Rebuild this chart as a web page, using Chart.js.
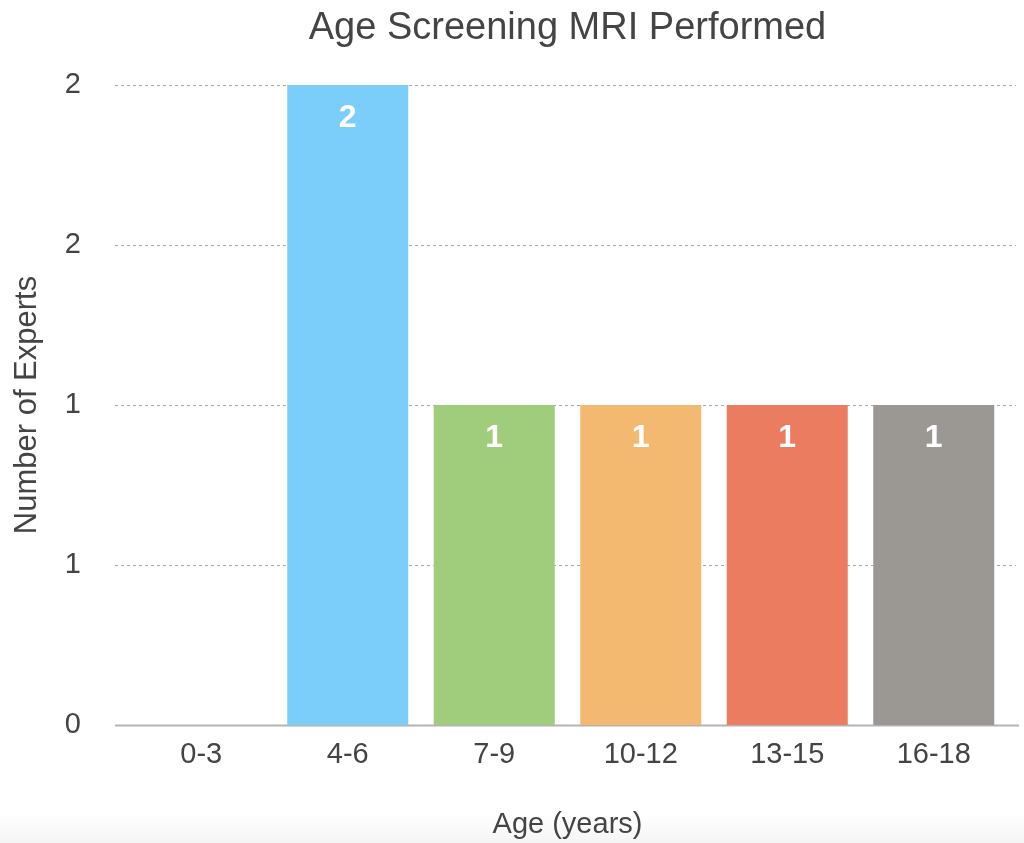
<!DOCTYPE html>
<html>
<head>
<meta charset="utf-8">
<title>Age Screening MRI Performed</title>
<script src="https://cdn.jsdelivr.net/npm/chart.js@4/dist/chart.umd.min.js"></script>
<style>
  html, body { margin: 0; padding: 0; }
  body {
    width: 1024px; height: 843px; overflow: hidden;
    background: linear-gradient(to bottom, #ffffff 0px, #ffffff 812px, #f5f5f5 843px);
  }
  #wrap { position: relative; width: 1024px; height: 843px; }
</style>
</head>
<body>
<div id="wrap"><canvas id="chart"></canvas></div>
<script>
// Age groups and the number of experts who perform screening MRI at each
const categories = ['0-3', '4-6', '7-9', '10-12', '13-15', '16-18'];
const experts = [0, 2, 1, 1, 1, 1];
const barColors = ['#7BCEFA', '#7BCEFA', '#9FCD7B', '#F3B970', '#EC7C5F', '#9B9893'];
const yTickStep = 0.5;
const yMax = 2;

const FONT = '"Helvetica Neue", "Liberation Sans", Arial, sans-serif';
const TEXT = '#444444';

// Dotted horizontal guides plus a solid baseline, slightly wider than the plot
const guides = {
  id: 'guides',
  beforeDatasetsDraw(chart) {
    const { ctx, chartArea, scales } = chart;
    const y = scales.y;
    const x0 = chartArea.left - 13;
    const x1 = chartArea.right + 9;
    ctx.save();
    y.ticks.forEach(t => {
      const py = Math.round(y.getPixelForValue(t.value)) + 0.5;
      if (t.value === 0) return;
      ctx.beginPath();
      ctx.setLineDash([3, 3]);
      ctx.strokeStyle = '#a8a8a8';
      ctx.lineWidth = 1;
      ctx.moveTo(x0, py);
      ctx.lineTo(x1, py);
      ctx.stroke();
    });
    const by = Math.round(y.getPixelForValue(0)) + 0.5;
    ctx.beginPath();
    ctx.setLineDash([]);
    ctx.strokeStyle = '#b4b4b4';
    ctx.lineWidth = 2;
    ctx.moveTo(x0, by);
    ctx.lineTo(x1 + 3, by);
    ctx.stroke();
    ctx.restore();
  }
};

// White value labels just inside the top of each bar
const valueLabels = {
  id: 'valueLabels',
  afterDatasetsDraw(chart) {
    const { ctx } = chart;
    const meta = chart.getDatasetMeta(0);
    const data = chart.data.datasets[0].data;
    ctx.save();
    ctx.fillStyle = '#ffffff';
    ctx.font = 'bold 32px ' + FONT;
    ctx.textAlign = 'center';
    ctx.textBaseline = 'middle';
    meta.data.forEach((bar, i) => {
      if (!data[i]) return;
      ctx.fillText(String(data[i]), bar.x, bar.y + 33);
    });
    ctx.restore();
  }
};

new Chart(document.getElementById('chart'), {
  type: 'bar',
  data: {
    labels: categories,
    datasets: [{
      data: experts,
      backgroundColor: barColors,
      borderWidth: 0,
      barPercentage: 0.826,
      categoryPercentage: 1.0
    }]
  },
  options: {
    responsive: true,
    maintainAspectRatio: false,
    animation: false,
    layout: { padding: { left: 0, right: 17, top: 0, bottom: 0 } },
    plugins: {
      legend: { display: false },
      tooltip: { enabled: false },
      title: {
        display: true,
        text: 'Age Screening MRI Performed',
        color: TEXT,
        fullSize: false,
        font: { family: FONT, size: 38, weight: 'normal' },
        padding: { top: 6, bottom: 33.4 }
      }
    },
    scales: {
      x: {
        grid: { display: false, drawTicks: false },
        border: { display: false },
        ticks: {
          color: TEXT,
          font: { family: FONT, size: 29 },
          padding: 13
        },
        title: {
          display: true,
          text: 'Age (years)',
          color: TEXT,
          font: { family: FONT, size: 29 },
          padding: { top: 0, bottom: 1 }
        },
        afterFit(s) { s.height = 118; }
      },
      y: {
        min: 0,
        max: yMax,
        grid: { display: false, drawTicks: false },
        border: { display: false },
        ticks: {
          stepSize: yTickStep,
          color: TEXT,
          font: { family: FONT, size: 29 },
          padding: 47,
          callback: v => String(Math.round(v))
        },
        title: {
          display: true,
          text: 'Number of Experts',
          color: TEXT,
          font: { family: FONT, size: 31 },
          padding: { top: 9, bottom: 0 }
        },
        afterFit(s) { s.width = 128; }
      }
    }
  },
  plugins: [guides, valueLabels]
});
</script>
</body>
</html>
